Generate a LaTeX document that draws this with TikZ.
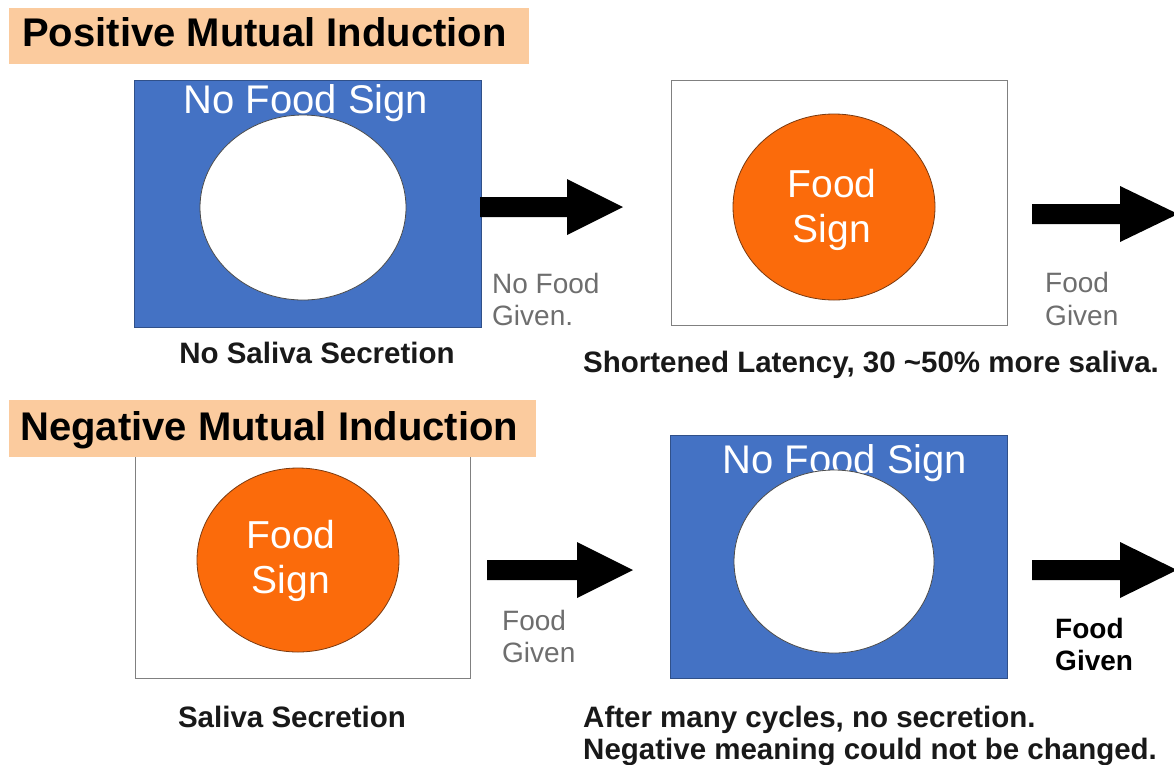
\documentclass[tikz,border=0pt]{standalone}
\usepackage{fontspec}
\setmainfont{Liberation Sans}
\usetikzlibrary{shapes.geometric}
\definecolor{peach}{HTML}{FBCB9E}
\definecolor{signblue}{HTML}{4472C4}
\definecolor{signorange}{HTML}{FB6B0B}
\definecolor{circedge}{HTML}{7A3A10}
\definecolor{boxedge}{HTML}{808080}
\definecolor{graytxt}{HTML}{6E6E6E}
\newcommand\myarrow[4]{% x0, xbase, xtip, ycenter
  \fill[black] (#1,#4-10) -- (#2,#4-10) -- (#2,#4-28) -- (#3,#4) -- (#2,#4+28) -- (#2,#4+10) -- (#1,#4+10) -- cycle;}
\begin{document}
\begin{tikzpicture}[x=1pt,y=-1pt,
  banner/.style={fill=peach, draw=none, inner sep=0pt, anchor=north west},
  titletxt/.style={font=\bfseries\fontsize{40}{48}\selectfont, anchor=base west, inner sep=0pt},
  bluebox/.style={fill=signblue, draw=signblue!70!black, line width=0.8pt, inner sep=0pt, anchor=north west},
  whitebox/.style={fill=white, draw=boxedge, line width=1.3pt, inner sep=0pt, anchor=north west},
  holeell/.style={ellipse, fill=white, draw=black!70, line width=0.8pt, inner sep=0pt},
  orangeell/.style={ellipse, fill=signorange, draw=circedge, line width=0.8pt, inner sep=0pt},
  nofood/.style={text=white, font=\fontsize{40}{46}\selectfont, anchor=base, inner sep=0pt},
  signtxt/.style={text=white, font=\fontsize{39}{45}\selectfont, anchor=base, inner sep=0pt},
  graylbl/.style={text=graytxt, font=\fontsize{28}{32}\selectfont, anchor=base west, inner sep=0pt},
  blacklbl/.style={text=black, font=\bfseries\fontsize{28}{32}\selectfont, anchor=base west, inner sep=0pt},
  captxt/.style={text=black!90, font=\bfseries\fontsize{29.5}{32}\selectfont, inner sep=0pt}
]
\useasboundingbox (0,0) rectangle (1174,764);
\fill[white] (0,0) rectangle (1174,764);

% ---------- Positive Mutual Induction ----------
\node[banner, minimum width=520pt, minimum height=56pt] (ban1) at (9,8) {};
\node[titletxt] (tit1) at (22,46) {Positive Mutual Induction};

% box 1: blue, no food sign
\node[bluebox, minimum width=347pt, minimum height=247pt] (box1) at (134,80) {};
\node[nofood] (nf1) at (306,113) {No Food Sign};
\node[holeell, minimum width=206pt, minimum height=185pt] (ell1) at (303,207.5) {};
\node[captxt, anchor=base] (cap1) at (317,363) {No Saliva Secretion};

% arrow 1
\myarrow{480}{567}{623}{207}
\node[graylbl] (lab1a) at (492,293) {No Food};
\node[graylbl] (lab1b) at (492,325) {Given.};

% box 2: white, food sign
\node[whitebox, minimum width=336pt, minimum height=245pt] (box2) at (671,80) {};
\node[orangeell, minimum width=202pt, minimum height=186pt] (ell2) at (834,207) {};
\node[signtxt] (fs2a) at (832,197) {Food};
\node[signtxt] (fs2b) at (832,242) {Sign};
\node[captxt, anchor=base west] (cap2) at (583,372) {Shortened Latency, 30 \char`\~50\% more saliva.};

% arrow 2
\myarrow{1032}{1120}{1178}{214}
\node[graylbl] (lab2a) at (1045,292) {Food};
\node[graylbl] (lab2b) at (1045,325) {Given};

% ---------- Negative Mutual Induction ----------
\node[whitebox, minimum width=335pt, minimum height=230pt] (box3) at (135,448) {};
\node[banner, minimum width=527pt, minimum height=57pt] (ban2) at (9,400) {};
\node[titletxt] (tit2) at (20,440) {Negative Mutual Induction};

\node[orangeell, minimum width=202pt, minimum height=184pt] (ell3) at (298,560) {};
\node[signtxt] (fs3a) at (291,548) {Food};
\node[signtxt] (fs3b) at (291,593) {Sign};
\node[captxt, anchor=base] (cap3) at (292,727) {Saliva Secretion};

% arrow 3
\myarrow{487}{577}{633}{570}
\node[graylbl] (lab3a) at (502,630) {Food};
\node[graylbl] (lab3b) at (502,662) {Given};

% box 4: blue, no food sign
\node[bluebox, minimum width=337pt, minimum height=243pt] (box4) at (670,435) {};
\node[nofood] (nf4) at (845,473) {No Food Sign};
\node[holeell, minimum width=200pt, minimum height=183pt] (ell4) at (834,561.5) {};
\node[captxt, anchor=base west] (cap4a) at (583,727) {After many cycles, no secretion.};
\node[captxt, anchor=base west] (cap4b) at (583,759) {Negative meaning could not be changed.};

% arrow 4
\myarrow{1032}{1120}{1177}{570}
\node[blacklbl] (lab4a) at (1055,638) {Food};
\node[blacklbl] (lab4b) at (1055,670) {Given};
\end{tikzpicture}
\end{document}
